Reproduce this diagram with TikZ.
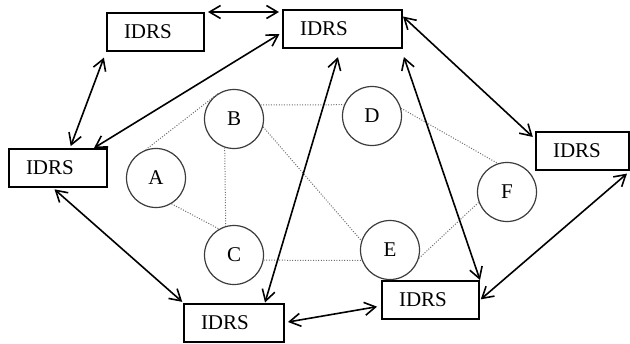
\documentclass[tikz,border=0pt]{standalone}
\usepackage{fontspec}
\setmainfont{Liberation Serif}
\usepackage{xcolor}
\definecolor{grisPunto}{RGB}{110,110,110}
\definecolor{grisBorde}{RGB}{60,60,60}
\usepackage{tikz}
\usetikzlibrary{arrows.meta,calc,positioning}
\tikzstyle{link}  =[<->, >={Straight Barb[length=5.5pt,width=6.5pt]},
                    line width=0.8pt]
\tikzstyle{nbr}   =[grisPunto, line width=0.5pt,
                    dash pattern=on 0.5pt off 0.8pt]
\tikzstyle{idrs}  =[rectangle, draw, line width=1pt,
                    inner xsep=8.5pt, inner ysep=0pt,
                    minimum height=19pt, text width=#1, align=left,
                    font=\fontsize{10.5}{12}\selectfont]
\tikzstyle{site}  =[circle, draw=grisBorde, minimum size=29.5pt,
                    line width=0.6pt, inner sep=0pt,
                    font=\fontsize{10.5}{12}\selectfont]

\begin{document}
\begin{tikzpicture}[x=0.5pt,y=-0.5pt]
    \useasboundingbox (0,0) rectangle (630,343);

        % IDRS boxes
        \draw (155.5,32) node (b1) [idrs=31.5pt] {IDRS};
        \draw (342.5,28.5) node (b2) [idrs=42.5pt] {IDRS};
        \draw (582.5,151) node (b3) [idrs=29.5pt] {IDRS};
        \draw (58,168) node (b4) [idrs=32pt] {IDRS};
        \draw (234,322.5) node (b5) [idrs=33pt] {IDRS};
        \draw (430.5,300) node (b6) [idrs=31.5pt] {IDRS};

        % sites
        \draw (156,178) node (A) [site] {A};
        \draw (234,119) node (B) [site] {B};
        \draw (234,255) node (C) [site] {C};
        \draw (372,116) node (D) [site] {D};
        \draw (390,250) node (E) [site] {E};
        \draw (507,192) node (F) [site] {F};

        \foreach \i/\j in{A.110/B.120,A.301/C.120,B.252/C.106,B.28/D.158,
        B.345/E.162,C.350/E.200,D.15/F.108,E.344/F.200}
        \draw [nbr] (\i) to (\j);

        % links between IDRS boxes
        \draw [link, shorten <=1.5pt, shorten >=1.5pt] (b1.north east) to (b1.north east -| b2.west);
        \draw [link, shorten <=3pt, shorten >=1pt] (b1.south west) to ([xshift=6pt]b4.north);
        \draw [link, shorten <=1.5pt] ([yshift=-2pt]b2.west) to ([xshift=-7pt]b4.north east);
        \draw [link, shorten >=1.5pt] ([yshift=-4pt]b2.north east) to ([yshift=-4pt]b3.north west);
        \draw [link, shorten <=4.5pt] ([xshift=-1pt]b2.south) to ([xshift=-10pt]b5.north east);
        \draw [link, shorten <=4.5pt] ([xshift=-1pt]b2.south east) to (b6.north east);
        \draw [link, shorten <=1pt, shorten >=0.5pt] ([xshift=-2.5pt]b4.south) to (b5.north west);
        \draw [link, shorten <=1.5pt, shorten >=2pt] (b5.east) to ([yshift=-3pt]b6.west);
        \draw [link, shorten <=2pt, shorten >=0.5pt] (b3.south east) to (b6.east);

\end{tikzpicture}
\end{document}
